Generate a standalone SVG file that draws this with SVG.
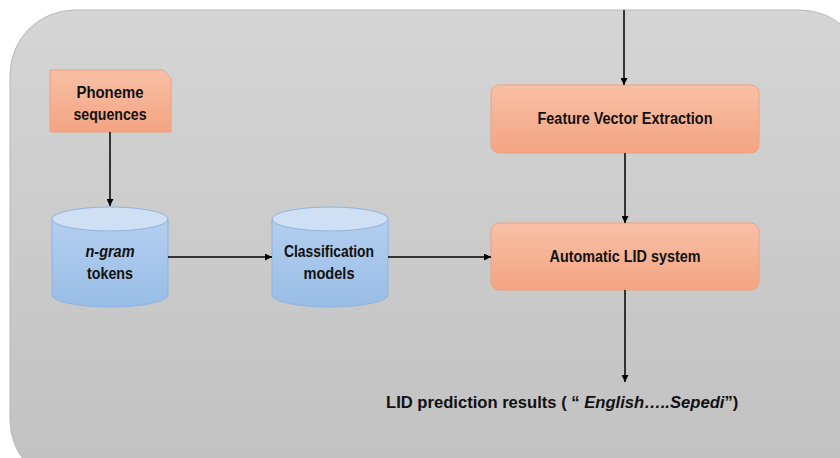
<svg xmlns="http://www.w3.org/2000/svg" width="840" height="458" viewBox="0 0 840 458">
<defs>
<linearGradient id="bg" x1="0" y1="0" x2="0" y2="1">
<stop offset="0" stop-color="#d5d5d5"/><stop offset="1" stop-color="#c1c1c1"/>
</linearGradient>
<linearGradient id="og" x1="0" y1="0" x2="0" y2="1">
<stop offset="0" stop-color="#f8c0a6"/><stop offset="1" stop-color="#f4a482"/>
</linearGradient>
<linearGradient id="bl" x1="0" y1="0" x2="0" y2="1">
<stop offset="0" stop-color="#b4cff0"/><stop offset="1" stop-color="#98bde6"/>
</linearGradient>
<marker id="ah" viewBox="0 0 10 10" refX="10" refY="5" markerWidth="7" markerHeight="7" markerUnits="userSpaceOnUse" orient="auto">
<path d="M0,0 L10,5 L0,10 z" fill="#000"/>
</marker>
<style>
.lbl{font-family:"Liberation Sans",Arial,sans-serif;font-weight:bold;font-size:16px;fill:#111;text-anchor:middle}
.obox{fill:url(#og);stroke:#eea27e;stroke-width:1}
.cyl{fill:url(#bl);stroke:#8fb3de;stroke-width:1}
.top{fill:#cfe0f5;stroke:#8fb3de;stroke-width:1}
.con{stroke:#000;stroke-width:1.5;fill:none;marker-end:url(#ah)}
</style>
</defs>
<rect x="10" y="10" width="855" height="475" rx="65" ry="65" fill="url(#bg)" stroke="#b8b8b8" stroke-width="1"/>

<g id="phoneme">
<path class="obox" d="M50,70 H163 L171,78 V132 H50 Z"/>
<text class="lbl" x="110" y="98" textLength="67" lengthAdjust="spacingAndGlyphs">Phoneme</text>
<text class="lbl" x="110" y="120" textLength="73" lengthAdjust="spacingAndGlyphs">sequences</text>
</g>

<g id="ngram">
<path class="cyl" d="M52,219 V295 A58,12 0 0 0 168,295 V219"/>
<ellipse class="top" cx="110" cy="219" rx="58" ry="12"/>
<text class="lbl" x="110" y="257" textLength="49" lengthAdjust="spacingAndGlyphs" font-style="italic">n-gram</text>
<text class="lbl" x="110" y="279" textLength="46" lengthAdjust="spacingAndGlyphs">tokens</text>
</g>

<g id="classification">
<path class="cyl" d="M272,219 V295 A58,12 0 0 0 388,295 V219"/>
<ellipse class="top" cx="330" cy="219" rx="58" ry="12"/>
<text class="lbl" x="329" y="257" textLength="90" lengthAdjust="spacingAndGlyphs">Classification</text>
<text class="lbl" x="329" y="279" textLength="51" lengthAdjust="spacingAndGlyphs">models</text>
</g>

<g id="fve">
<rect class="obox" x="491" y="85" width="268" height="68" rx="8" ry="8"/>
<text class="lbl" x="625" y="124" textLength="175" lengthAdjust="spacingAndGlyphs">Feature Vector Extraction</text>
</g>

<g id="lid">
<rect class="obox" x="491" y="223" width="268" height="67" rx="8" ry="8"/>
<text class="lbl" x="625" y="262" textLength="151" lengthAdjust="spacingAndGlyphs">Automatic LID system</text>
</g>

<g id="result">
<text x="386" y="408" font-family="'Liberation Sans',Arial,sans-serif" font-weight="bold" font-size="16.6" fill="#111">LID prediction results ( “ <tspan font-style="italic">English…..Sepedi</tspan>”)</text>
</g>

<g id="connectors">
<line class="con" x1="110" y1="132" x2="110" y2="206"/>
<line class="con" x1="168" y1="257" x2="272" y2="257"/>
<line class="con" x1="388" y1="257" x2="491" y2="257"/>
<line class="con" x1="624" y1="10" x2="624" y2="85"/>
<line class="con" x1="625" y1="153" x2="625" y2="223"/>
<line class="con" x1="625" y1="290" x2="625" y2="382"/>
</g>
</svg>
